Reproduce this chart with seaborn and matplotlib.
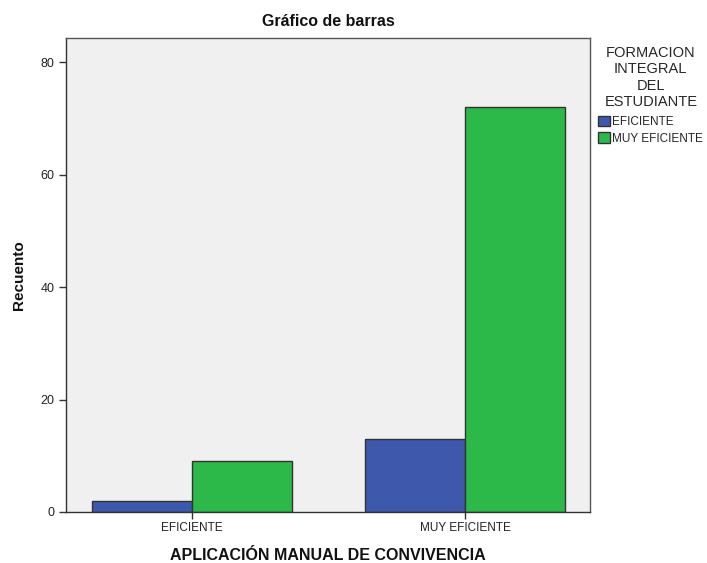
import matplotlib
matplotlib.use("Agg")
import matplotlib.pyplot as plt
import seaborn as sns
import pandas as pd

categories = ["EFICIENTE", "MUY EFICIENTE"]
hue_levels = ["EFICIENTE", "MUY EFICIENTE"]
eficiente_vals = [2, 13]
muy_eficiente_vals = [9, 72]
yticks = [0, 20, 40, 60, 80]

df = pd.DataFrame({
    "cat": categories * 2,
    "hue": [hue_levels[0]] * 2 + [hue_levels[1]] * 2,
    "val": eficiente_vals + muy_eficiente_vals,
})

sns.set_theme(style="white")
plt.rcParams["font.family"] = ["Liberation Sans", "DejaVu Sans"]

fig = plt.figure(figsize=(7.07, 5.63), dpi=100)
ax = fig.add_axes([0.0934, 0.0906, 0.7411, 0.8419])
ax.set_facecolor("#F0F0F0")

sns.barplot(data=df, x="cat", y="val", hue="hue", order=categories,
            hue_order=hue_levels, palette=["#3E58AC", "#2DB84A"],
            width=0.733, edgecolor="#333333", linewidth=1.0, ax=ax,
            saturation=1, errorbar=None)

ax.set_xlim(-0.4615, 1.458)
ax.set_ylim(0, 84.3)
ax.set_yticks(yticks)
ax.set_yticklabels([str(t) for t in yticks], fontsize=9)
ax.tick_params(axis="both", which="both", direction="out", length=5,
               width=1, color="#333333", left=True, bottom=True, labelcolor="#222222")
ax.tick_params(axis="x", labelsize=8.5, pad=2)
for s in ax.spines.values():
    s.set_color("#555555")
    s.set_linewidth(1.0)
ax.spines["left"].set_color("#333333")
ax.spines["bottom"].set_color("#333333")

ax.set_title("Gráfico de barras", fontsize=11.5, fontweight="bold", pad=9, color="#111111")
ax.set_ylabel("Recuento", fontsize=11, fontweight="bold", labelpad=10, color="#111111")
ax.set_xlabel("APLICACIÓN MANUAL DE CONVIVENCIA", fontsize=11.5, fontweight="bold",
              labelpad=10, color="#111111")

leg = ax.legend(title="FORMACION\nINTEGRAL\nDEL\nESTUDIANTE", loc="upper left",
                bbox_to_anchor=(1.0, 1.0), frameon=False, fontsize=8.5,
                title_fontsize=10.5, handlelength=1.0, handleheight=1.0,
                handletextpad=0.2, borderaxespad=0.3, labelspacing=0.35)
leg._legend_box.align = "center"
leg._legend_box.sep = 5
leg.get_title().set_multialignment("center")
for h in leg.legend_handles:
    h.set_edgecolor("#333333")

fig.savefig("out.png", dpi=100)
